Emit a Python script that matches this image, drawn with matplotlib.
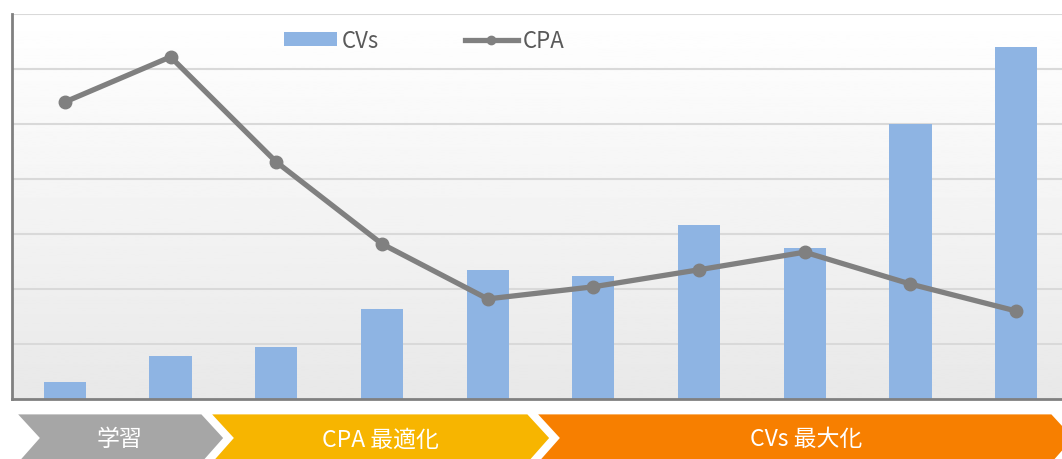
import matplotlib
matplotlib.use("Agg")
import matplotlib.pyplot as plt
import numpy as np
from matplotlib.patches import Polygon
from matplotlib.lines import Line2D
from matplotlib.patches import Patch

plt.rcParams['font.family'] = ['Noto Sans CJK JP', 'DejaVu Sans']

# ---- data ----
periods = list(range(1, 11))
cvs = [0.31, 0.78, 0.95, 1.64, 2.35, 2.24, 3.16, 2.75, 5.0, 6.4]
cpa = [5.4, 6.22, 4.31, 2.82, 1.82, 2.04, 2.35, 2.67, 2.09, 1.6]
phase_labels = ['学習', 'CPA 最適化', 'CVs 最大化']
phase_colors = ['#a6a6a6', '#f7b500', '#f77f00']

W, H = 1062, 460
fig = plt.figure(figsize=(W / 100, H / 100), dpi=100)
fig.patch.set_facecolor('white')

# overlay axes in pixel coordinates for phase chevrons
ov = fig.add_axes([0, 0, 1, 1], zorder=0)
ov.set_xlim(0, W)
ov.set_ylim(H, 0)
ov.axis('off')
ov.patch.set_alpha(0)

top, mid, bot, d = 414, 439, 465, 23
spans = [(15, 202), (209, 528), (535, 1052)]
label_x = [120, 380, 806]
for (x0, x1), col, lab, cx in zip(spans, phase_colors, phase_labels, label_x):
    pts = [(x0, top), (x1, top), (x1 + d, mid), (x1, bot), (x0, bot), (x0 + d, mid)]
    ov.add_patch(Polygon(pts, closed=True, facecolor=col, edgecolor='white', linewidth=2))
    ov.text(cx, mid + 1, lab, color='white', fontsize=16.5, ha='center', va='center')

# main axes
left_px, right_px = 12, 12 + 10 * 105.7
bottom_px, top_px = 400, 15
ax = fig.add_axes([left_px / W, 1 - bottom_px / H, (right_px - left_px) / W, (bottom_px - top_px) / H], zorder=1)
ax.set_xlim(-0.5, 9.5)
ax.set_ylim(0, 7)

# gradient background (white at top, light grey at bottom)
grad = np.linspace(1.0, 0.91, 256).reshape(-1, 1)
ax.imshow(grad, extent=(-0.5, 9.5, 0, 7), cmap='gray', vmin=0, vmax=1, aspect='auto', zorder=0,
          origin='upper')
ax.set_xlim(-0.5, 9.5)
ax.set_ylim(0, 7)

for yv in range(1, 8):
    ax.axhline(yv, color='#d9d9d9', linewidth=1.5, zorder=1)

x = np.arange(len(periods))
ax.bar(x, cvs, width=0.4, color='#8eb4e3', zorder=2, label='CVs')
ax.plot(x, cpa, color='#808080', linewidth=3.8, marker='o', markersize=9, zorder=3, label='CPA')

for s in ['top', 'right']:
    ax.spines[s].set_visible(False)
ax.spines['left'].set_color('#808080')
ax.spines['left'].set_linewidth(2)
ax.spines['bottom'].set_color('#808080')
ax.spines['bottom'].set_linewidth(2)
ax.set_xticks([])
ax.set_yticks([])

handles = [Patch(facecolor='#8eb4e3', label='CVs'),
           Line2D([], [], color='#808080', linewidth=3.8, marker='o', markersize=6, label='CPA')]
leg = ax.legend(handles=handles, ncol=2, loc='upper left',
                bbox_to_anchor=(284 / W, 1 - 30 / H), bbox_transform=fig.transFigure,
                frameon=False, fontsize=16, handlelength=2.4, handleheight=0.6,
                handletextpad=0.2, columnspacing=3.85, borderaxespad=0, borderpad=0)
for t in leg.get_texts():
    t.set_color('#595959')

fig.savefig('out.png', dpi=100)
